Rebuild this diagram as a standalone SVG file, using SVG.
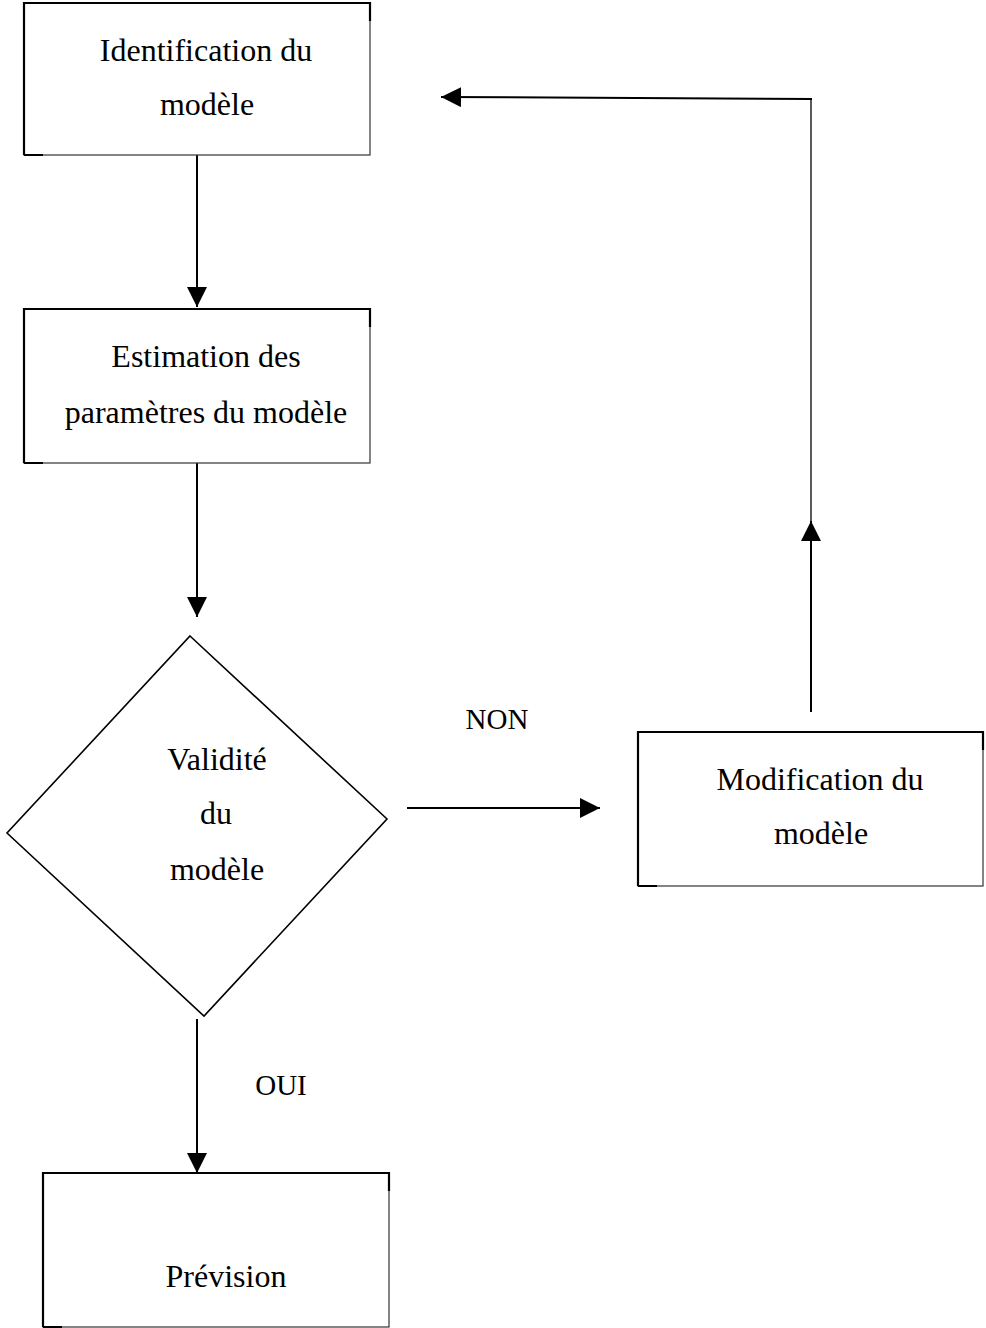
<svg xmlns="http://www.w3.org/2000/svg" width="986" height="1328" viewBox="0 0 986 1328">
  <defs>
    <marker id="arrow" markerUnits="userSpaceOnUse" markerWidth="20" markerHeight="20" refX="20" refY="10" orient="auto">
      <path d="M0,0 L20,10 L0,20 Z" fill="#000"/>
    </marker>
    <style>
      .box { fill: #fff; stroke: #333; stroke-width: 1.2; }
      .edge { fill: none; stroke: #000; stroke-width: 2.2; }
      .dia { fill: #fff; stroke: #000; stroke-width: 1.6; }
      .lbl { font-family: "Liberation Serif", "Times New Roman", serif; font-size: 32px; fill: #000; text-anchor: middle; }
      .small { font-size: 29px; }
      .conn { fill: none; stroke: #000; stroke-width: 2; }
      .thin { fill: none; stroke: #000; stroke-width: 1.3; }
    </style>
  </defs>
  <rect width="986" height="1328" fill="#fff"/>

  <g id="connectors">
    <line class="conn" x1="197" y1="155" x2="197" y2="307" marker-end="url(#arrow)"/>
    <line class="conn" x1="197" y1="463" x2="197" y2="617" marker-end="url(#arrow)"/>
    <line class="conn" x1="197" y1="1019" x2="197" y2="1173" marker-end="url(#arrow)"/>
    <line class="conn" x1="407" y1="808" x2="600" y2="808" marker-end="url(#arrow)"/>
    <line class="conn" x1="811" y1="712" x2="811" y2="521" marker-end="url(#arrow)"/>
    <line class="thin" x1="811" y1="525" x2="811" y2="98"/>
    <line class="conn" x1="812" y1="99" x2="441" y2="97" marker-end="url(#arrow)"/>
    <text class="lbl small" x="497" y="729">NON</text>
    <text class="lbl small" x="281" y="1095">OUI</text>
  </g>

  <g id="identification">
    <rect class="box" x="24" y="3" width="346" height="152"/>
    <path class="edge" d="M24,155 V3 H370 V21 M24,155 H43"/>
    <text class="lbl" x="206" y="61">Identification du</text>
    <text class="lbl" x="207" y="115">modèle</text>
  </g>

  <g id="estimation">
    <rect class="box" x="24" y="309" width="346" height="154"/>
    <path class="edge" d="M24,463 V309 H370 V327 M24,463 H43"/>
    <text class="lbl" x="206" y="367">Estimation des</text>
    <text class="lbl" x="206" y="423">paramètres du modèle</text>
  </g>

  <g id="validite">
    <polygon class="dia" points="190,636 387,819 204,1016 7,833"/>
    <text class="lbl" x="217" y="770">Validité</text>
    <text class="lbl" x="216" y="824">du</text>
    <text class="lbl" x="217" y="880">modèle</text>
  </g>

  <g id="modification">
    <rect class="box" x="638" y="732" width="345" height="154"/>
    <path class="edge" d="M638,886 V732 H983 V750 M638,886 H657"/>
    <text class="lbl" x="820" y="790">Modification du</text>
    <text class="lbl" x="821" y="844">modèle</text>
  </g>

  <g id="prevision">
    <rect class="box" x="43" y="1173" width="346" height="154"/>
    <path class="edge" d="M43,1327 V1173 H389 V1191 M43,1327 H62"/>
    <text class="lbl" x="226" y="1287">Prévision</text>
  </g>
</svg>
